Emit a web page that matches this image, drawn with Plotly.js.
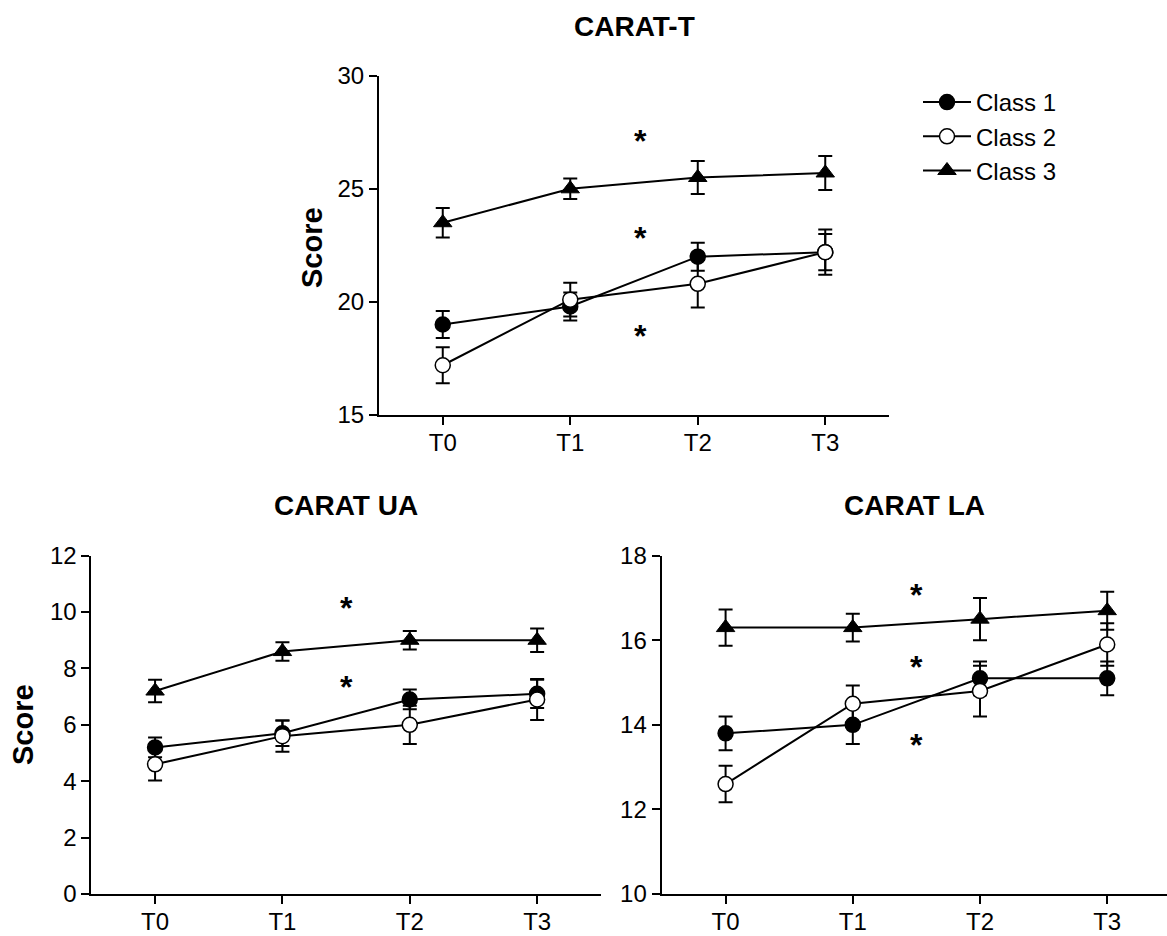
<!DOCTYPE html>
<html>
<head>
<meta charset="utf-8">
<script src="https://cdn.plot.ly/plotly-3.0.1.min.js"></script>
<style>html,body{margin:0;padding:0;background:#fff;}#chart{width:1167px;height:936px;}</style>
</head>
<body>
<div id="chart"></div>
<script>
// ---- data ----
const timepoints = ['T0', 'T1', 'T2', 'T3'];
const classNames = ['Class 1', 'Class 2', 'Class 3'];

// CARAT-T
const caratT_class1 = [19.0, 19.8, 22.0, 22.2];
const caratT_class1_err = [0.6, 0.62, 0.62, 0.8];
const caratT_class2 = [17.2, 20.1, 20.8, 22.2];
const caratT_class2_err = [0.8, 0.75, 1.05, 1.0];
const caratT_class3 = [23.5, 25.0, 25.5, 25.7];
const caratT_class3_err = [0.65, 0.45, 0.73, 0.75];

// CARAT UA
const caratUA_class1 = [5.2, 5.7, 6.9, 7.1];
const caratUA_class1_err = [0.35, 0.45, 0.35, 0.5];
const caratUA_class2 = [4.6, 5.6, 6.0, 6.9];
const caratUA_class2_err = [0.57, 0.55, 0.68, 0.73];
const caratUA_class3 = [7.2, 8.6, 9.0, 9.0];
const caratUA_class3_err = [0.4, 0.33, 0.33, 0.42];

// CARAT LA
const caratLA_class1 = [13.8, 14.0, 15.1, 15.1];
const caratLA_class1_err = [0.4, 0.45, 0.4, 0.4];
const caratLA_class2 = [12.6, 14.5, 14.8, 15.9];
const caratLA_class2_err = [0.43, 0.43, 0.6, 0.5];
const caratLA_class3 = [16.3, 16.3, 16.5, 16.7];
const caratLA_class3_err = [0.43, 0.33, 0.5, 0.45];

// significance asterisks: [x position (category index), y value]
const starsT = [[1.55, 27.2], [1.55, 22.9], [1.55, 18.6]];
const starsUA = [[1.5, 10.2], [1.5, 7.4]];
const starsLA = [[1.5, 17.12], [1.5, 15.41], [1.5, 13.56]];

// ---- styles ----
const FONT = 'Liberation Sans, Arial, Helvetica, sans-serif';
const markerStyles = [
  {symbol: 'circle', size: 15, color: '#000', line: {color: '#000', width: 1.5}},
  {symbol: 'circle', size: 15, color: '#fff', line: {color: '#000', width: 1.5}},
  {symbol: 'triangle-up', size: 16, color: '#000', line: {color: '#000', width: 1}}
];

function mkTrace(values, errs, idx, xa, ya, showLegend) {
  return {
    type: 'scatter', mode: 'lines+markers',
    x: timepoints, y: values,
    name: classNames[idx], legendgroup: 'g' + idx, showlegend: showLegend,
    xaxis: xa, yaxis: ya,
    line: {color: '#000', width: 2},
    marker: markerStyles[idx],
    error_y: {type: 'data', array: errs, visible: true, color: '#000', thickness: 2, width: 7}
  };
}

const traces = [
  mkTrace(caratT_class1, caratT_class1_err, 0, 'x', 'y', true),
  mkTrace(caratT_class2, caratT_class2_err, 1, 'x', 'y', true),
  mkTrace(caratT_class3, caratT_class3_err, 2, 'x', 'y', true),
  mkTrace(caratUA_class1, caratUA_class1_err, 0, 'x2', 'y2', false),
  mkTrace(caratUA_class2, caratUA_class2_err, 1, 'x2', 'y2', false),
  mkTrace(caratUA_class3, caratUA_class3_err, 2, 'x2', 'y2', false),
  mkTrace(caratLA_class1, caratLA_class1_err, 0, 'x3', 'y3', false),
  mkTrace(caratLA_class2, caratLA_class2_err, 1, 'x3', 'y3', false),
  mkTrace(caratLA_class3, caratLA_class3_err, 2, 'x3', 'y3', false)
];

const tickFont = {family: FONT, size: 24, color: '#000'};
function xAx(domain, anchor, range) {
  return {domain: domain, anchor: anchor, type: 'category', range: range,
    showline: true, linecolor: '#000', linewidth: 2, ticks: 'outside', ticklen: 8, tickwidth: 2,
    tickcolor: '#000', showgrid: false, zeroline: false, tickfont: tickFont, fixedrange: true,
    ticklabelstandoff: -3};
}
function yAx(domain, anchor, range, dtick) {
  return {domain: domain, anchor: anchor, range: range, dtick: dtick, tick0: 0,
    showline: true, linecolor: '#000', linewidth: 2, ticks: 'outside', ticklen: 8, tickwidth: 2,
    tickcolor: '#000', showgrid: false, zeroline: false, tickfont: tickFont, fixedrange: true};
}

const annotations = [];
function addStars(list, xr, yr) {
  list.forEach(p => annotations.push({x: p[0], y: p[1], xref: xr, yref: yr, text: '<b>*</b>', showarrow: false,
    font: {family: FONT, size: 32, color: '#000'}, yshift: -2}));
}
addStars(starsT, 'x', 'y');
addStars(starsUA, 'x2', 'y2');
addStars(starsLA, 'x3', 'y3');

function addTitle(text, px, py) {
  annotations.push({text: '<b>' + text + '</b>', x: px / 1167, y: 1 - py / 936, xref: 'paper', yref: 'paper',
    xanchor: 'center', yanchor: 'middle', showarrow: false, font: {family: FONT, size: 28, color: '#000'}});
}
addTitle('CARAT-T', 634, 26);
addTitle('CARAT UA', 346, 506);
addTitle('CARAT LA', 914, 506);
function addScore(px, py) {
  annotations.push({text: '<b>Score</b>', x: px / 1167, y: 1 - py / 936, xref: 'paper', yref: 'paper',
    xanchor: 'center', yanchor: 'middle', textangle: -90, showarrow: false,
    font: {family: FONT, size: 29, color: '#000'}});
}
addScore(312, 248);
addScore(23, 725);

const layout = {
  width: 1167, height: 936,
  margin: {l: 0, r: 0, t: 0, b: 0},
  paper_bgcolor: '#fff', plot_bgcolor: '#fff',
  font: {family: FONT, color: '#000'},
  xaxis: xAx([379 / 1167, 889 / 1167], 'y', [-0.5, 3.5]),
  yaxis: yAx([1 - 415 / 936, 1 - 75.7 / 936], 'x', [15, 30], 5),
  xaxis2: xAx([91.4 / 1167, 600.8 / 1167], 'y2', [-0.5, 3.5]),
  yaxis2: yAx([1 - 894 / 936, 1 - 555.7 / 936], 'x2', [0, 12], 2),
  xaxis3: xAx([661.6 / 1167, 1], 'y3', [-0.503, 3.47]),
  yaxis3: yAx([1 - 894 / 936, 1 - 555.7 / 936], 'x3', [10, 18], 2),
  showlegend: true,
  legend: {x: 918 / 1167, y: 1 - 80 / 936, xanchor: 'left', yanchor: 'top',
    font: {family: FONT, size: 24, color: '#000'}, bgcolor: 'rgba(0,0,0,0)',
    tracegroupgap: 7, traceorder: 'normal', itemwidth: 48},
  annotations: annotations
};

Plotly.newPlot('chart', traces, layout, {displayModeBar: false, staticPlot: true});
</script>
</body>
</html>
